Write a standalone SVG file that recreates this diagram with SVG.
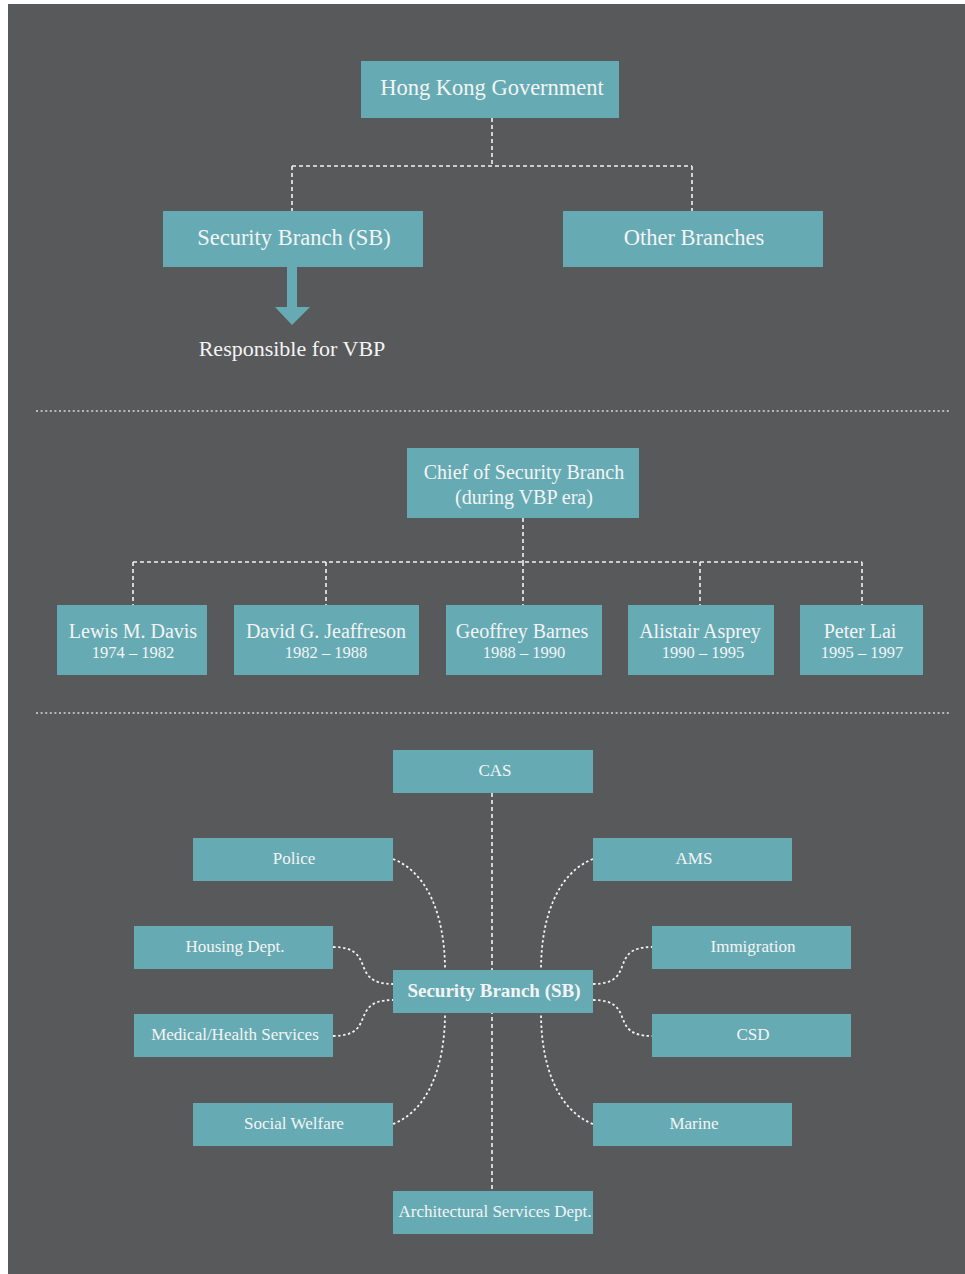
<svg xmlns="http://www.w3.org/2000/svg" width="965" height="1274" viewBox="0 0 965 1274">
<style>
.bg{fill:#58595b}
.box{fill:#66abb4}
.t{font-family:"Liberation Serif","DejaVu Serif",serif;fill:#f4f4f4;text-anchor:middle}
.lg{font-size:22.5px}
.md{font-size:20px}
.sm{font-size:16.5px}
.s3{font-size:17px}
.b{font-weight:bold;font-size:19px}
.wt{fill:#f4f4f4;text-anchor:middle;font-family:"Liberation Serif","DejaVu Serif",serif;font-size:22px}
.dash{fill:none;stroke:#f2f2f2;stroke-width:1.6;stroke-dasharray:4 3}
.dot{fill:none;stroke:#f2f2f2;stroke-width:1.8;stroke-dasharray:2.5 2.5}
.sep{fill:none;stroke:#d8d8d8;stroke-width:1.5;stroke-dasharray:2 2.6}
</style>
<rect x="0" y="0" width="965" height="1274" fill="#ffffff"/>
<rect class="bg" x="8" y="4" width="957" height="1270"/>
<line class="sep" x1="36" y1="411" x2="950" y2="411"/>
<line class="sep" x1="36" y1="713" x2="950" y2="713"/>
<g id="connectors">
<path class="dash" d="M492,118 V166 M292,166 H692 M292,166 V211 M692,166 V211"/>
<path class="dash" d="M523,518 V562 M133,562 H862 M133,562 V605 M326,562 V605 M523,562 V605 M700,562 V605 M862,562 V605"/>
<path class="dash" d="M492,793 V1191"/>
<path class="dot" d="M393,859 C427,872 445,915 445,970"/>
<path class="dot" d="M593,859 C559,872 541,915 541,970"/>
<path class="dot" d="M393,1124 C427,1111 445,1068 445,1013"/>
<path class="dot" d="M593,1124 C559,1111 541,1068 541,1013"/>
<path class="dot" d="M333,947 C378,947 348,984 393,984"/>
<path class="dot" d="M333,1036 C378,1036 348,1000 393,1000"/>
<path class="dot" d="M593,984 C638,984 607,947 652,947"/>
<path class="dot" d="M593,1000 C638,1000 607,1036 652,1036"/>
<polygon id="arrow" fill="#66abb4" points="287,267 297,267 297,307 310,307 292,325 275,307 287,307"/>
</g>
<g id="n-hkg"><rect class="box" x="361" y="61" width="258" height="57"/><text class="t lg" x="492" y="95">Hong Kong Government</text></g>
<g id="n-sb-top"><rect class="box" x="163" y="211" width="260" height="56"/><text class="t lg" x="294" y="245">Security Branch (SB)</text></g>
<g id="n-other"><rect class="box" x="563" y="211" width="260" height="56"/><text class="t lg" x="694" y="245">Other Branches</text></g>
<g id="n-resp"><text class="wt" x="292" y="356">Responsible for VBP</text></g>
<g id="n-chief"><rect class="box" x="407" y="448" width="232" height="70"/><text class="t md" x="524" y="479">Chief of Security Branch</text><text class="t md" x="524" y="504">(during VBP era)</text></g>
<g id="n-davis"><rect class="box" x="57" y="605" width="150" height="70"/><text class="t md" x="133" y="638">Lewis M. Davis</text><text class="t sm" x="133" y="658">1974 – 1982</text></g>
<g id="n-jeaffreson"><rect class="box" x="234" y="605" width="185" height="70"/><text class="t md" x="326" y="638">David G. Jeaffreson</text><text class="t sm" x="326" y="658">1982 – 1988</text></g>
<g id="n-barnes"><rect class="box" x="446" y="605" width="156" height="70"/><text class="t md" x="522" y="638">Geoffrey Barnes</text><text class="t sm" x="524" y="658">1988 – 1990</text></g>
<g id="n-asprey"><rect class="box" x="628" y="605" width="146" height="70"/><text class="t md" x="700" y="638">Alistair Asprey</text><text class="t sm" x="703" y="658">1990 – 1995</text></g>
<g id="n-lai"><rect class="box" x="800" y="605" width="123" height="70"/><text class="t md" x="860" y="638">Peter Lai</text><text class="t sm" x="862" y="658">1995 – 1997</text></g>
<g id="n-cas"><rect class="box" x="393" y="750" width="200" height="43"/><text class="t s3" x="495" y="776">CAS</text></g>
<g id="n-police"><rect class="box" x="193" y="838" width="200" height="43"/><text class="t s3" x="294" y="864">Police</text></g>
<g id="n-ams"><rect class="box" x="593" y="838" width="199" height="43"/><text class="t s3" x="694" y="864">AMS</text></g>
<g id="n-housing"><rect class="box" x="134" y="926" width="199" height="43"/><text class="t s3" x="235" y="952">Housing Dept.</text></g>
<g id="n-immigration"><rect class="box" x="652" y="926" width="199" height="43"/><text class="t s3" x="753" y="952">Immigration</text></g>
<g id="n-sb"><rect class="box" x="393" y="970" width="200" height="43"/><text class="t b" x="494" y="997">Security Branch (SB)</text></g>
<g id="n-medical"><rect class="box" x="134" y="1014" width="199" height="43"/><text class="t s3" x="235" y="1040">Medical/Health Services</text></g>
<g id="n-csd"><rect class="box" x="652" y="1014" width="199" height="43"/><text class="t s3" x="753" y="1040">CSD</text></g>
<g id="n-welfare"><rect class="box" x="193" y="1103" width="200" height="43"/><text class="t s3" x="294" y="1129">Social Welfare</text></g>
<g id="n-marine"><rect class="box" x="593" y="1103" width="199" height="43"/><text class="t s3" x="694" y="1129">Marine</text></g>
<g id="n-asd"><rect class="box" x="393" y="1191" width="200" height="43"/><text class="t s3" x="495" y="1217">Architectural Services Dept.</text></g>
</svg>
